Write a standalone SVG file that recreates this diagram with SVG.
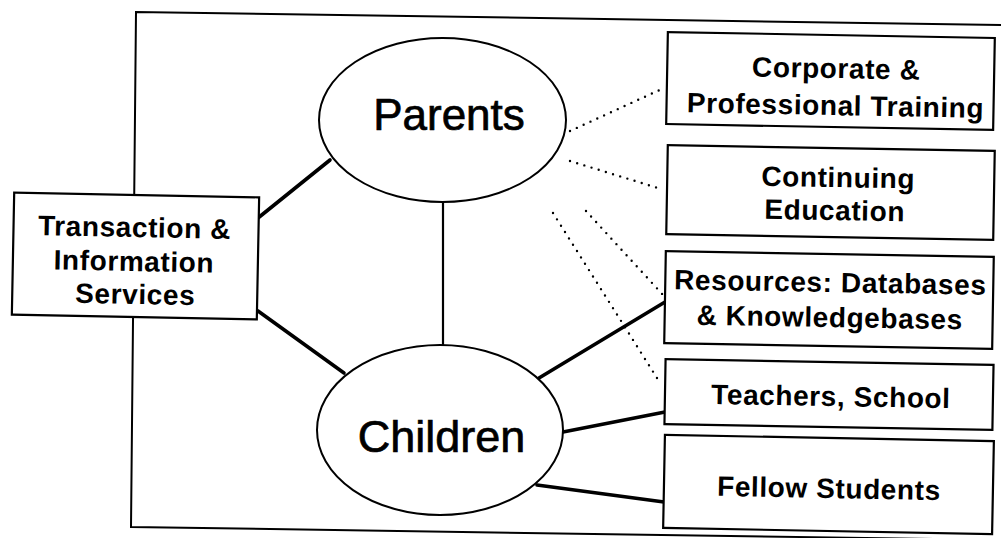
<svg xmlns="http://www.w3.org/2000/svg" width="1001" height="538" viewBox="0 0 1001 538">
  <style>
    .frame { fill: none; stroke: #000; stroke-width: 2; }
    .box { fill: #fff; stroke: #000; stroke-width: 2.2; }
    .oval { fill: #fff; stroke: #000; stroke-width: 2; }
    .link { stroke: #000; stroke-width: 3.6; stroke-linecap: round; fill: none; }
    .stem { stroke: #000; stroke-width: 2.2; fill: none; }
    .dots { stroke: #000; stroke-width: 2.4; stroke-linecap: round; stroke-dasharray: 0 7.5; fill: none; }
    .lbl { font-family: "Liberation Sans", Arial, sans-serif; font-weight: bold; font-size: 28px; letter-spacing: 0.6px; fill: #000; text-anchor: middle; }
    .big { font-family: "Liberation Sans", Arial, sans-serif; font-weight: normal; fill: #000; stroke: #000; stroke-width: 0.7; text-anchor: middle; }
  </style>
  <rect width="1001" height="538" fill="#fff"/>

  <!-- outer frame (right side runs past the page edge) -->
  <path class="frame" d="M 1001,25 L 136,12 L 131,527 L 1001,540"/>

  <!-- connectors -->
  <g id="connectors">
    <line class="link" x1="258" y1="218" x2="330" y2="160"/>
    <line class="link" x1="258" y1="311" x2="344" y2="373"/>
    <line class="stem" x1="443" y1="202" x2="443" y2="345"/>
    <line class="link" x1="539" y1="378" x2="665" y2="302"/>
    <line class="link" x1="563" y1="432" x2="665" y2="412"/>
    <line class="link" x1="537" y1="485" x2="664" y2="502"/>
    <line class="dots" x1="570" y1="131" x2="664" y2="88"/>
    <line class="dots" x1="570" y1="161" x2="658" y2="188"/>
    <line class="dots" x1="586" y1="211" x2="664" y2="296"/>
    <line class="dots" x1="553" y1="213" x2="657" y2="378"/>
  </g>

  <g id="transaction" transform="rotate(1.1 135.5 256)">
    <rect class="box" x="13" y="195" width="245" height="122"/>
    <text class="lbl" x="134" y="237">Transaction &amp;</text>
    <text class="lbl" x="134" y="271">Information</text>
    <text class="lbl" x="136" y="304">Services</text>
  </g>

  <g id="parents">
    <ellipse class="oval" cx="442.5" cy="120" rx="123.5" ry="82"/>
    <text class="big" x="449" y="130" font-size="44">Parents</text>
  </g>

  <g id="children">
    <ellipse class="oval" cx="440" cy="430" rx="123" ry="85"/>
    <text class="big" x="441.5" y="452" font-size="45">Children</text>
  </g>

  <g id="corporate" transform="rotate(1.05 830.5 81)">
    <rect class="box" x="667" y="35" width="327" height="92"/>
    <text class="lbl" x="836" y="78">Corporate &amp;</text>
    <text class="lbl" x="836" y="115">Professional Training</text>
  </g>

  <g id="continuing" transform="rotate(1 830.5 192.5)">
    <rect class="box" x="667" y="148" width="327" height="89"/>
    <text class="lbl" x="838" y="187">Continuing</text>
    <text class="lbl" x="835" y="220">Education</text>
  </g>

  <g id="resources" transform="rotate(1 829 300)">
    <rect class="box" x="665" y="254" width="328" height="92"/>
    <text class="lbl" x="830" y="292">Resources: Databases</text>
    <text class="lbl" x="830" y="327">&amp; Knowledgebases</text>
  </g>

  <g id="teachers" transform="rotate(1 829 394)">
    <rect class="box" x="665" y="362" width="328" height="65"/>
    <text class="lbl" x="831" y="406">Teachers, School</text>
  </g>

  <g id="fellow" transform="rotate(1.1 828.5 485)">
    <rect class="box" x="664" y="438" width="329" height="93"/>
    <text class="lbl" x="829" y="498">Fellow Students</text>
  </g>
</svg>
